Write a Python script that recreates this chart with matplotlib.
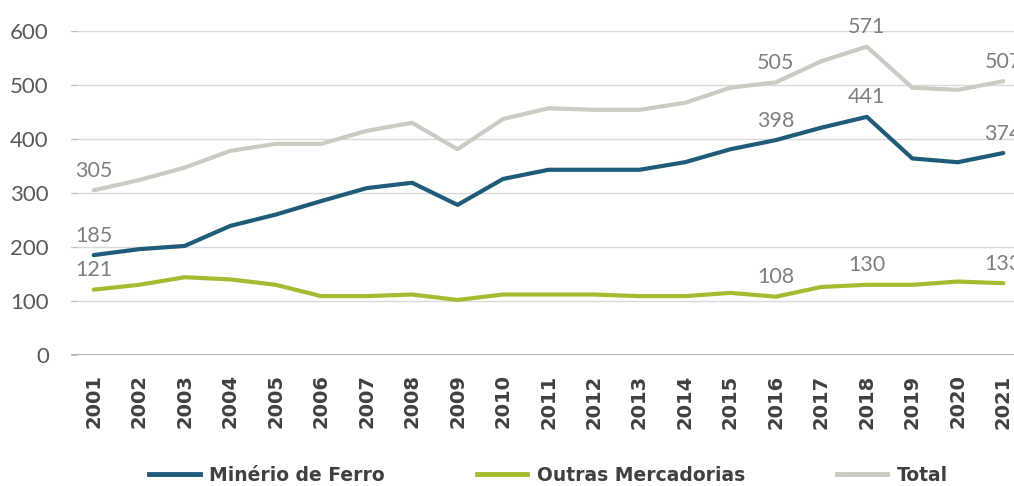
import matplotlib
matplotlib.use("Agg")
import matplotlib.pyplot as plt
from matplotlib.lines import Line2D

years = [str(y) for y in range(2001, 2022)]
minerio = [185, 196, 202, 239, 260, 285, 309, 319, 278, 326, 343, 343, 343, 357, 381, 398, 421, 441, 364, 357, 374]
outras = [121, 130, 144, 140, 130, 109, 109, 112, 102, 112, 112, 112, 109, 109, 115, 108, 126, 130, 130, 136, 133]
total = [305, 324, 347, 378, 391, 391, 415, 430, 381, 437, 457, 454, 454, 467, 495, 505, 544, 571, 495, 491, 507]

series_names = ["Minério de Ferro", "Outras Mercadorias", "Total"]
colors = ["#1F5C7A", "#A3BD31", "#CBCBC3"]
label_idx = [0, 15, 17, 20]

plt.rcParams['font.family'] = ['Lato', 'DejaVu Sans']

fig = plt.figure(figsize=(10.14, 4.86), dpi=100)
ax = fig.add_axes([71/1014, (486-355)/486, (1026-71)/1014, 324/486])

x = list(range(len(years)))
data = [minerio, outras, total]
for vals, c in zip(data, colors):
    ax.plot(x, vals, color=c, lw=3, solid_capstyle='round', zorder=3)
    for i in label_idx:
        ax.annotate(str(vals[i]), (x[i], vals[i]), xytext=(0, 14), textcoords='offset points',
                    ha='center', va='center', fontsize=15.5, color='#7F7F7F', zorder=4)

ax.set_xlim(-0.5, len(years) - 0.5)
ax.set_ylim(0, 600)
ax.set_yticks(range(0, 601, 100))
ax.set_yticklabels([str(v) for v in range(0, 601, 100)], fontsize=16, color='#595959')
ax.set_xticks(x)
ax.set_xticklabels(years, rotation=90, fontsize=14, fontweight='bold', color='#404040',
                   family='DejaVu Sans')
ax.tick_params(axis='x', length=0, pad=14)
ax.tick_params(axis='y', length=4, direction='in', color='#BFBFBF', pad=16)
ax.grid(axis='y', color='#D9D9D9', lw=1, zorder=0)
for s in ['top', 'right', 'bottom', 'left']:
    ax.spines[s].set_visible(False)
ax.axhline(0, color='#A6A6A6', lw=1.2, zorder=2)

handles = [Line2D([0], [0], color=c, lw=3.5) for c in colors]
fig.legend(handles, series_names, loc='center', bbox_to_anchor=(0.541, 0.022), ncol=3,
           frameon=False, prop={'size': 13.5, 'weight': 'bold', 'family': 'DejaVu Sans'},
           labelcolor='#404040', handlelength=2.7, columnspacing=4.9, handletextpad=0.5)

fig.savefig("out.png", dpi=100)
